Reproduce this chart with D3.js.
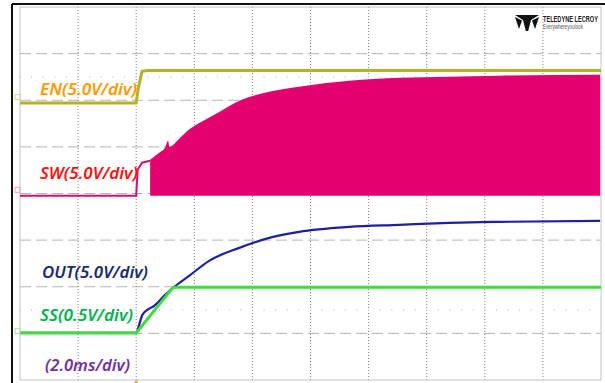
<!DOCTYPE html>
<html>
<head>
<meta charset="utf-8">
<script src="https://cdn.jsdelivr.net/npm/d3@7"></script>
<style>
    html, body { margin: 0; padding: 0; background: #fff; }
    svg { display: block; }
    .lbl { font-family: "Noto Sans", "Open Sans", sans-serif; font-style: italic; font-weight: 600; font-size: 16px; }
</style>
</head>
<body>
<div id="scope"></div>
<script>
// time in ms (2.0 ms/div), values in volts
var enTime = [-4, 0, 0.07, 0.2, 0.4, 16];
var enVolt = [0, 0, 1.6, 3.4, 3.5, 3.5];

var swLowTime = [-4, 0, 0.05, 0.2, 0.48];
var swLowVolt = [0, 0, 2.8, 3.55, 3.76];

var swEnvTime = [0.48, 0.79, 1.0, 1.1, 1.14, 1.48, 1.82, 2.17, 2.86, 3.55, 4.58, 5.61, 7.33, 9.05, 10.77, 12.5, 15.97];
var swEnvVolt = [3.86, 4.61, 5.2, 5.9, 5.25, 6.12, 7.1, 7.8, 9.0, 10.19, 11.16, 11.7, 12.34, 12.66, 12.77, 12.88, 12.98];

var outTime = [-4, 0, 0.1, 0.21, 0.38, 0.62, 0.96, 1.31, 1.82, 2.51, 3.55, 4.58, 5.61, 7.33, 9.05, 10.77, 12.5, 15.97];
var outVolt = [0, 0, 0.86, 1.93, 2.47, 2.9, 3.97, 4.94, 6.12, 7.73, 9.12, 10.19, 10.84, 11.37, 11.59, 11.8, 11.91, 12.02];

var ssTime = [-4, 0, 1.25, 1.35, 16];
var ssVolt = [0, 0, 0.48, 0.49, 0.49];

var labels = ["EN(5.0V/div)", "SW(5.0V/div)", "OUT(5.0V/div)", "SS(0.5V/div)", "(2.0ms/div)"];

var svg = d3.select("#scope").append("svg")
    .attr("width", 605)
    .attr("height", 383);

var x = d3.scaleLinear().domain([-4, 16]).range([20, 601]);
var yDiv = d3.scaleLinear().domain([-4, 4]).range([380, 7]);

// per channel: volts/div and offset in divisions
function chan(vpd, off) {
    return function (v) { return yDiv(v / vpd + off); };
}
var yEN = chan(5, 1.94),
    ySW = chan(5, -0.05),
    yOUT = chan(5, -2.99),
    ySS = chan(0.5, -2.99);

function zip(t, v) {
    return t.map(function (d, i) { return [d, v[i]]; });
}

// grid
var grid = svg.append("g");
d3.range(-3, 4).forEach(function (d) {
    grid.append("line")
        .attr("x1", x(-4)).attr("x2", x(16))
        .attr("y1", yDiv(d)).attr("y2", yDiv(d))
        .style("stroke", "#b4b4b4")
        .style("stroke-width", 1)
        .style("stroke-dasharray", "11,5");
});
d3.range(-2, 16, 2).forEach(function (d) {
    grid.append("line")
        .attr("x1", x(d)).attr("x2", x(d))
        .attr("y1", yDiv(4)).attr("y2", yDiv(-4))
        .style("stroke", "#808080")
        .style("stroke-width", 1)
        .style("stroke-dasharray", "1,2");
});
// faint minor ticks
[2.5, -2.5].forEach(function (r) {
    d3.range(-4, 16, 0.4).forEach(function (t) {
        grid.append("line")
            .attr("x1", x(t)).attr("x2", x(t))
            .attr("y1", yDiv(r) - 1).attr("y2", yDiv(r) + 1)
            .style("stroke", "#d4d4d4");
    });
});
grid.append("rect")
    .attr("x", x(-4)).attr("y", yDiv(4))
    .attr("width", x(16) - x(-4)).attr("height", yDiv(-4) - yDiv(4))
    .style("fill", "none")
    .style("stroke", "#c4c4c4");

// outer frame
svg.append("line").attr("x1", 12).attr("x2", 605).attr("y1", 4).attr("y2", 4)
    .style("stroke", "#111").style("stroke-width", 2);
svg.append("line").attr("x1", 12).attr("x2", 12).attr("y1", 4).attr("y2", 383)
    .style("stroke", "#111").style("stroke-width", 2);

// logo
var logo = svg.append("g").attr("transform", "translate(527,21)");
logo.append("path")
    .attr("d", "M-12,-6 L12,-6 L4,-1 L1.2,10 L-1.2,10 L-4,-1 Z M-12,-4 L-5,-0.5 L-8,8 Z M12,-4 L5,-0.5 L8,8 Z")
    .style("fill", "#111");

// squeeze the brand texts into their boxes
function fitText(str, xPos, yPos, w, font, fill) {
    var g = svg.append("g").attr("transform", "translate(" + xPos + "," + yPos + ")");
    var t = g.append("text").style("font", font).style("fill", fill).text(str);
    var len = t.node().getComputedTextLength();
    t.attr("transform", "scale(" + (w / len) + ",1)");
}
fitText("TELEDYNE LECROY", 543, 22, 55, 'bold 9px "Liberation Sans", sans-serif', "#222");
fitText("Everywhereyoulook", 543, 29, 40, '7px "Liberation Sans", sans-serif', "#555");

// traces
var line = function (yf) {
    return d3.line().x(function (d) { return x(d[0]); }).y(function (d) { return yf(d[1]); });
};

svg.append("path")
    .datum(zip(enTime, enVolt))
    .attr("d", line(yEN))
    .style("fill", "none").style("stroke", "#b3b22b").style("stroke-width", 3);

svg.append("path")
    .datum(zip(swLowTime, swLowVolt))
    .attr("d", line(ySW))
    .style("fill", "none").style("stroke", "#dc0a72").style("stroke-width", 2);

svg.append("path")
    .datum(zip(swEnvTime, swEnvVolt))
    .attr("d", d3.area()
        .x(function (d) { return x(d[0]); })
        .y0(ySW(0))
        .y1(function (d) { return ySW(d[1]); })
        .curve(d3.curveMonotoneX))
    .style("fill", "#e5006f");

svg.append("path")
    .datum(zip(outTime, outVolt))
    .attr("d", line(yOUT).curve(d3.curveMonotoneX))
    .style("fill", "none").style("stroke", "#1d1fa6").style("stroke-width", 2.2);

svg.append("path")
    .datum(zip(ssTime, ssVolt))
    .attr("d", line(ySS))
    .style("fill", "none").style("stroke", "#3fdc3c").style("stroke-width", 3);

// channel markers
[[yEN(0) - 6, "#d8d59a"], [ySW(0) - 6, "#f0a0c8"], [ySS(0) - 2, "#9ee89e"]].forEach(function (m) {
    svg.append("rect")
        .attr("x", 15).attr("y", m[0] - 2.5)
        .attr("width", 5).attr("height", 5)
        .style("fill", "none").style("stroke", m[1]);
});
svg.append("path")
    .attr("d", "M" + x(0) + ",379 l-2,4 l4,0 Z")
    .style("fill", "#c8c060");

// labels
var lblPos = [[40, 95, 97, "#ff9900"], [40, 179, 98, "#ff1010"], [42, 278, 106, "#1b2a6e"], [40, 321, 93, "#00b050"], [45, 371, 85, "#7030a0"]];
svg.selectAll(".lbl")
    .data(labels)
    .enter().append("text")
    .attr("class", "lbl")
    .attr("x", function (d, i) { return lblPos[i][0]; })
    .attr("y", function (d, i) { return lblPos[i][1]; })
    .attr("textLength", function (d, i) { return lblPos[i][2]; })
    .attr("lengthAdjust", "spacingAndGlyphs")
    .style("fill", function (d, i) { return lblPos[i][3]; })
    .text(function (d) { return d; });
</script>
</body>
</html>
